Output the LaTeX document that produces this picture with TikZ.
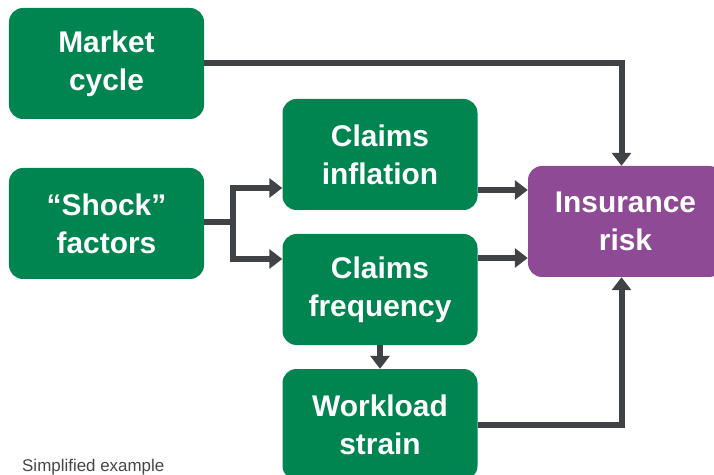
\documentclass[tikz,border=0pt]{standalone}
\usepackage{fontspec}
\setmainfont{Liberation Sans}
\usetikzlibrary{arrows.meta,calc}
\definecolor{boxgreen}{RGB}{0,132,80}
\definecolor{boxpurple}{RGB}{142,74,148}
\definecolor{conngray}{RGB}{64,67,70}
\definecolor{notegray}{RGB}{70,70,70}
\tikzset{
  box/.style={rectangle, rounded corners=14bp, fill=boxgreen, text=white,
    minimum width=195bp, minimum height=111bp, inner sep=0pt, align=center,
    font=\fontsize{30}{38}\selectfont\bfseries},
  riskbox/.style={box, fill=boxpurple},
  conn/.style={draw=conngray, line width=6bp, line join=miter},
  arr/.style={conn, -{Triangle[length=13bp,width=19bp]}},
}
\begin{document}
\begin{tikzpicture}[x=1bp,y=-1bp]
\useasboundingbox (0,0) rectangle (714,475);
\node[box] (market) at (106.5,63.5) {Market\\cycle};
\node[box] (shock) at (106.5,223.5) {“Shock”\\factors};
\node[box] (infl) at (380,154.5) {Claims\\inflation};
\node[box] (freq) at (380,289.5) {Claims\\frequency};
\node[box] (work) at (380,424.5) {Workload\\strain};
\node[riskbox] (ins) at (625.5,221.5) {Insurance\\risk};
\node[anchor=base west, text=notegray, font=\fontsize{17}{20}\selectfont, inner sep=0pt] (note) at (22,471) {Simplified example};
% connectors
\draw[arr] (market.east) -| ([xshift=-4bp]ins.north);
\coordinate (split) at ($(shock.east)+(29,-1.5)$);
\draw[conn] ($(shock.east)+(0,-1.5)$) -- ($(split)+(3,0)$);
\draw[arr] (split) |- ($(infl.west)+(0,33.5)$);
\draw[arr] (split) |- ($(freq.west)+(0,-30.5)$);
\coordinate (i1) at ($(infl.east)+(0,35.5)$);
\draw[arr] (i1) -- (i1 -| ins.west);
\coordinate (f1) at ($(freq.east)+(0,-31.5)$);
\draw[arr] (f1) -- (f1 -| ins.west);
\draw[arr] (freq.south) -- (work.north);
\draw[arr] (work.east) -| ([xshift=-4bp]ins.south);
\end{tikzpicture}
\end{document}
